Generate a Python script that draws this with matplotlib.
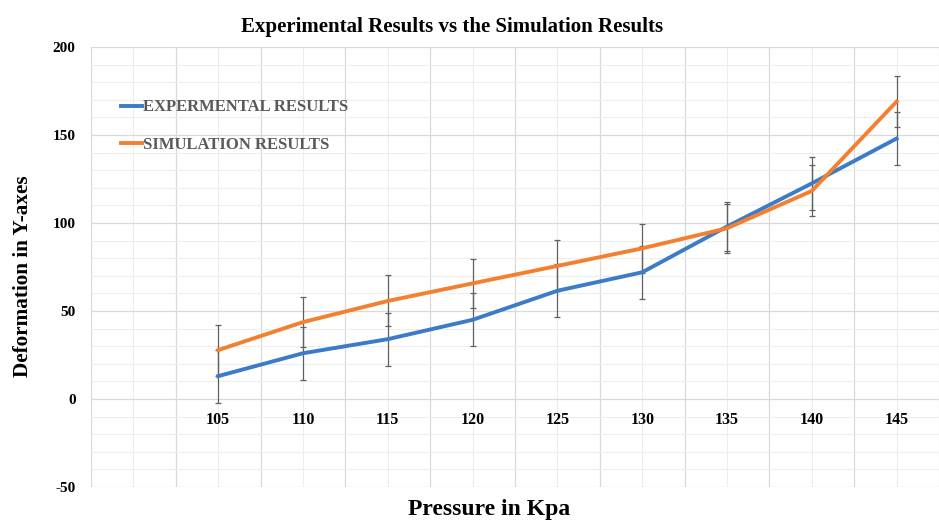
import numpy as np
import matplotlib.pyplot as plt

# ==================================================
# Data
# ==================================================
pressure = ["105", "110", "115", "120", "125", "130", "135", "140", "145"]
experimental = [13, 26, 34, 45, 61.5, 72, 98, 122.5, 148]
simulation = [27.8, 43.7, 55.7, 65.7, 75.6, 85.6, 97, 118.2, 169]
exp_err = [15, 15, 15, 15, 15, 15, 14, 15, 15]
sim_err = [14.5, 14, 14.5, 14, 14.5, 14, 14, 14.5, 14.5]

y_ticks = [-50, 0, 50, 100, 150, 200]

SERIF = ["Liberation Serif", "DejaVu Serif"]
BLUE = "#3C7BC7"
ORANGE = "#F28030"


def main():
    fig = plt.figure(figsize=(9.39, 5.24), dpi=100)
    ax = fig.add_axes([0.0969, 0.0706, 0.9031, 0.8397])

    # category positions: slot 0 is an empty category in the original
    x = np.arange(1, len(pressure) + 1)

    ax.set_xlim(-0.5, 9.36)
    ax.set_ylim(-50, 200)

    # grid: major at category boundaries / every 50, minor at centres / every 10
    ax.set_xticks(np.arange(-0.5, 10, 1.0))
    ax.set_xticks(np.arange(0, 10, 1.0), minor=True)
    ax.set_yticks(y_ticks)
    ax.set_yticks(np.arange(-50, 201, 10), minor=True)
    ax.grid(True, which="major", color="#d9d9d9", linewidth=0.9)
    ax.grid(True, which="minor", color="#ededed", linewidth=0.8)
    ax.set_axisbelow(True)
    ax.tick_params(which="both", length=0)
    ax.set_xticklabels([])
    ax.set_yticklabels([str(v) for v in y_ticks], fontfamily=SERIF,
                       fontweight="bold", fontsize=11)
    ax.tick_params(axis="y", pad=11)
    for side in ax.spines.values():
        side.set_visible(False)

    # category labels sit just under the zero line
    for xi, lab in zip(x, pressure):
        ax.text(xi, -12, lab, ha="center", va="center", fontfamily=SERIF,
                fontweight="bold", fontsize=11.5)

    # error bars
    ax.errorbar(x, experimental, yerr=exp_err, fmt="none", ecolor="#606060",
                elinewidth=0.9, capsize=2.5, capthick=0.9, zorder=2)
    ax.errorbar(x, simulation, yerr=sim_err, fmt="none", ecolor="#606060",
                elinewidth=0.9, capsize=2.5, capthick=0.9, zorder=2)

    ax.plot(x, experimental, color=BLUE, linewidth=2.8,
            label="EXPERMENTAL RESULTS", zorder=3)
    ax.plot(x, simulation, color=ORANGE, linewidth=2.8,
            label="SIMULATION RESULTS", zorder=3)

    leg = ax.legend(loc="center left", bbox_to_anchor=(0.018, 0.82),
                    frameon=False, handlelength=1.25, handletextpad=0.05,
                    labelspacing=1.3,
                    prop={"family": SERIF, "weight": "bold", "size": 12})
    for t in leg.get_texts():
        t.set_color("#595959")

    fig.text(0.481, 0.948, "Experimental Results vs the Simulation Results",
             ha="center", va="center", fontfamily=SERIF, fontweight="bold",
             fontsize=15)
    fig.text(0.521, 0.027, "Pressure in Kpa", ha="center", va="center",
             fontfamily=SERIF, fontweight="bold", fontsize=17)
    fig.text(0.0245, 0.473, "Deformation in Y-axes", ha="center", va="center",
             rotation=90, fontfamily=SERIF, fontweight="bold", fontsize=15.3)

    fig.savefig("out.png", dpi=100)


if __name__ == "__main__":
    main()
